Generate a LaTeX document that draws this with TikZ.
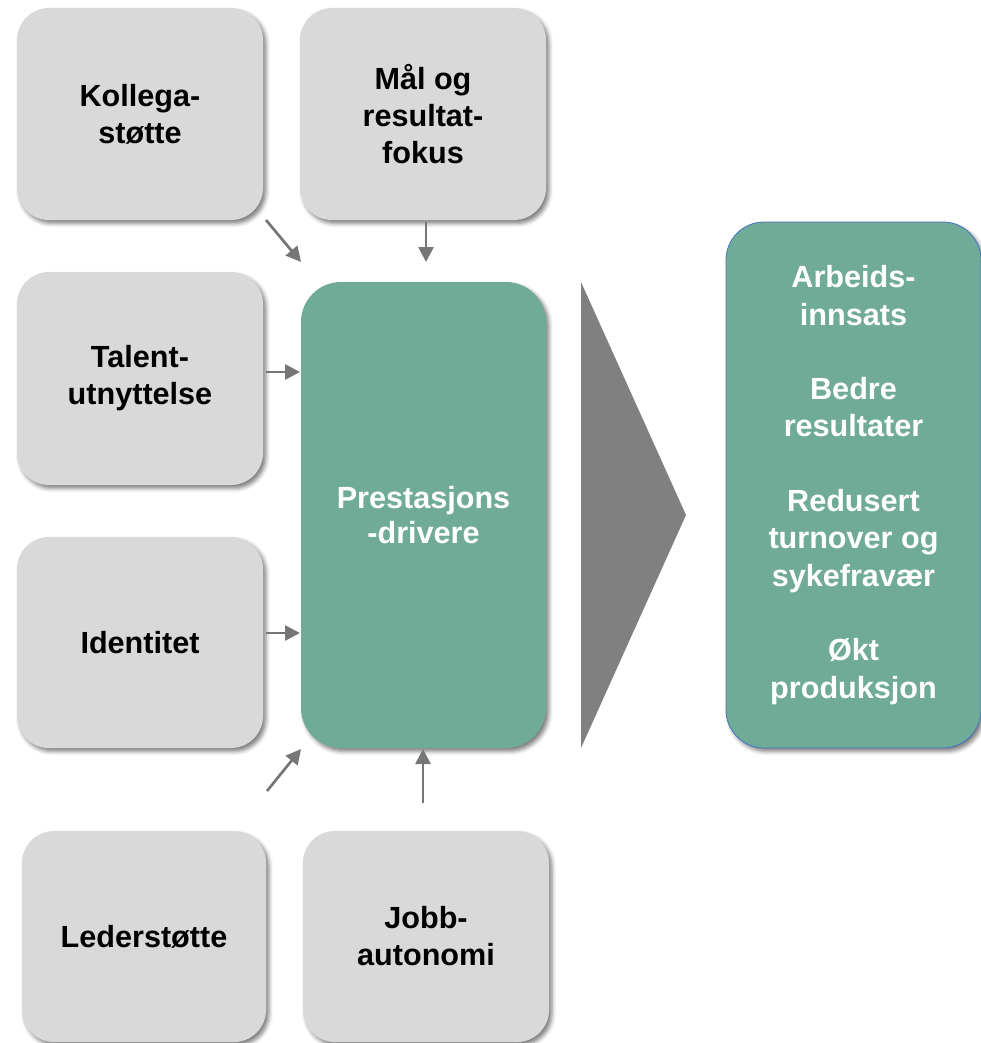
\documentclass[tikz,border=0pt]{standalone}
\usepackage{fontspec}
\setmainfont{Liberation Sans}
\usetikzlibrary{shadows.blur,arrows.meta}

\definecolor{boxgray}{HTML}{D9D9D9}
\definecolor{drivergreen}{HTML}{70AB97}
\definecolor{arrowgray}{HTML}{767676}
\definecolor{chevgray}{HTML}{808080}
\definecolor{edgeblue}{HTML}{4472C4}

\tikzset{
  softshadow/.style={blur shadow={shadow xshift=3pt,shadow yshift=-3.5pt,
      shadow blur radius=4pt,shadow opacity=50}},
  factor/.style={rectangle,rounded corners=32pt,fill=boxgray,softshadow,
      minimum width=246pt,minimum height=212pt,inner sep=0pt,align=center,
      font=\fontsize{30.6}{37}\selectfont\bfseries,text=black},
  driver/.style={rectangle,rounded corners=40pt,fill=drivergreen,softshadow,
      minimum width=245pt,minimum height=466pt,inner sep=0pt,align=center,
      font=\fontsize{30.6}{35}\selectfont\bfseries,text=white},
  outcome/.style={rectangle,rounded corners=38pt,fill=drivergreen,
      draw=edgeblue,line width=0.8pt,softshadow,
      minimum width=255pt,minimum height=526pt,inner sep=0pt,align=center,
      font=\fontsize{30.6}{37.3}\selectfont\bfseries,text=white},
  feed/.style={draw=arrowgray,line width=2.7pt,
      -{Triangle[width=15pt,length=15pt]}},
}

\begin{document}
\begin{tikzpicture}[x=1pt,y=-1pt]
\useasboundingbox (0,0) rectangle (981,1043);

% factor boxes
\node[factor] (kol) at (140,114)   {Kollega-\\støtte};
\node[factor] (mal) at (423,114)   {Mål og\\resultat-\\fokus};
\node[factor,minimum height=213pt] (tal) at (140,378.5) {Talent-\\utnyttelse};
\node[factor,minimum height=211pt] (ide) at (140,642.5) {Identitet};
\node[factor,minimum height=211pt,minimum width=244pt] (led) at (144,936.5) {Lederstøtte};
\node[factor,minimum height=211pt] (job) at (426,936.5) {Jobb-\\autonomi};

% central driver box
\node[driver] (pres) at (423.5,515) {Prestasjons\\-drivere};

% outcome box
\node[outcome] (res) at (853.5,485)
  {Arbeids-\\innsats\\[37.3pt]Bedre\\resultater\\[37.3pt]Redusert\\turnover og\\sykefravær\\[37.3pt]Økt\\produksjon};

% big chevron between driver and outcomes
\fill[chevgray] (581,282) coordinate (chevtop) -- (686,515) coordinate (chevtip)
  -- (581,748) coordinate (chevbot) -- cycle;

% arrow ends
\coordinate (k1) at (266,220);  \coordinate (k2) at (301,262);
\coordinate (m1) at (426,222);  \coordinate (m2) at (426,262);
\coordinate (t1) at (266,372);  \coordinate (t2) at (300,372);
\coordinate (i1) at (266,633);  \coordinate (i2) at (300,633);
\coordinate (l1) at (267,791);  \coordinate (l2) at (301,749);
\coordinate (j1) at (423,803);  \coordinate (j2) at (423,749);

\draw[feed] (k1) -- (k2);
\draw[feed] (m1) -- (m2);
\draw[feed] (t1) -- (t2);
\draw[feed] (i1) -- (i2);
\draw[feed] (l1) -- (l2);
\draw[feed] (j1) -- (j2);
\end{tikzpicture}
\end{document}
